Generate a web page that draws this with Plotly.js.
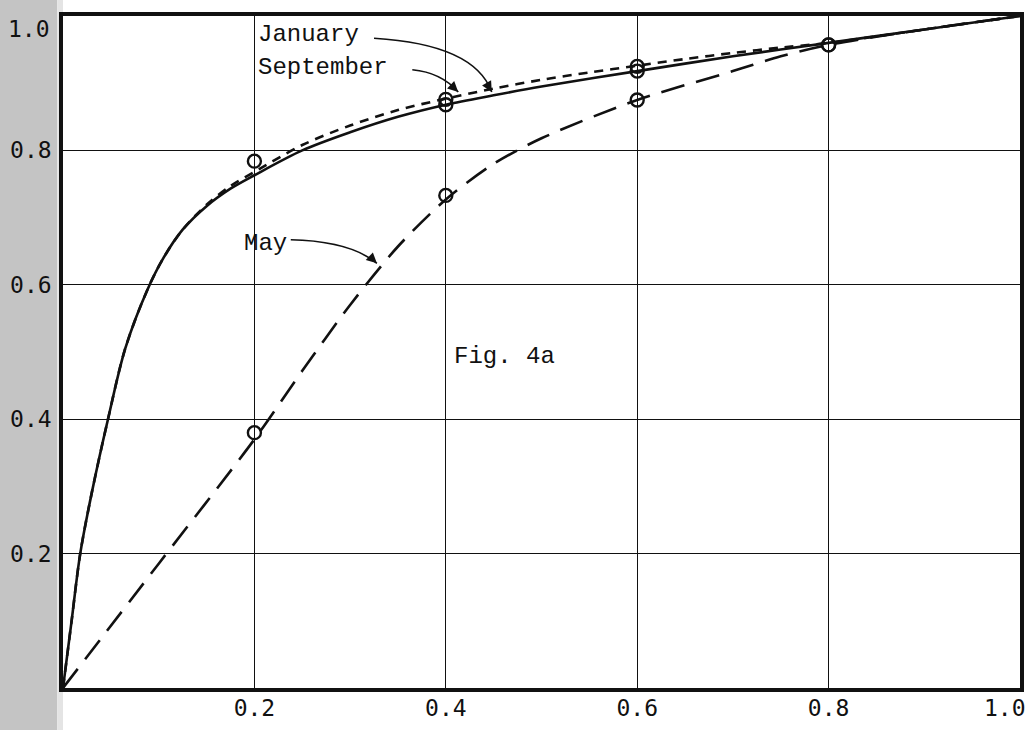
<!DOCTYPE html>
<html>
<head>
<meta charset="utf-8">
<script src="https://cdn.plot.ly/plotly-3.0.1.min.js"></script>
<style>
  html, body { margin: 0; padding: 0; background: #ffffff; }
  #chart { width: 1029px; height: 730px; }
</style>
</head>
<body>
<div id="chart"></div>
<script>
// ---- data ----
const tickVals   = [0.2, 0.4, 0.6, 0.8, 1.0];
const tickLabels = ["0.2", "0.4", "0.6", "0.8", "1.0"];

// September (solid curve)
const sepX = [0, 0.009, 0.018, 0.03, 0.047, 0.065, 0.088, 0.105, 0.125, 0.15, 0.175, 0.2, 0.25, 0.3, 0.35, 0.4, 0.45, 0.5, 0.6, 0.7, 0.8, 0.9, 1.0];
const sepY = [0, 0.1, 0.2, 0.29, 0.4, 0.505, 0.592, 0.64, 0.682, 0.717, 0.743, 0.763, 0.8, 0.827, 0.85, 0.868, 0.882, 0.895, 0.918, 0.94, 0.96, 0.98, 1.0];

// January (short-dashed curve)
const janX = [0, 0.009, 0.018, 0.03, 0.047, 0.065, 0.088, 0.105, 0.125, 0.15, 0.175, 0.2, 0.25, 0.3, 0.35, 0.4, 0.45, 0.5, 0.55, 0.6, 0.65, 0.7, 0.75, 0.8, 0.9, 1.0];
const janY = [0, 0.1, 0.2, 0.29, 0.4, 0.505, 0.592, 0.64, 0.682, 0.719, 0.747, 0.768, 0.808, 0.837, 0.86, 0.877, 0.892, 0.905, 0.916, 0.926, 0.936, 0.945, 0.953, 0.96, 0.98, 1.0];

// May (long-dashed curve)
const mayX = [0, 0.1, 0.2, 0.25, 0.3, 0.35, 0.4, 0.45, 0.5, 0.6, 0.7, 0.75, 0.8, 0.9, 1.0];
const mayY = [0, 0.185, 0.37, 0.472, 0.57, 0.657, 0.727, 0.78, 0.818, 0.875, 0.918, 0.94, 0.957, 0.98, 1.0];

// observed points (circles)
const janObsX = [0.2, 0.4, 0.6, 0.8];
const janObsY = [0.784, 0.876, 0.925, 0.957];
const sepObsX = [0.4, 0.6];
const sepObsY = [0.868, 0.918];
const mayObsX = [0.2, 0.4, 0.6, 0.8];
const mayObsY = [0.38, 0.733, 0.875, 0.957];

const BLACK = "#111111";
const curveW = 2.6;
const markerStyle = { symbol: "circle-open", size: 13, color: BLACK, line: { width: 2.4, color: BLACK } };

const traces = [
  { x: mayX, y: mayY, mode: "lines", name: "May",
    line: { color: BLACK, width: curveW, dash: "24px,12px", shape: "spline", smoothing: 0.8 } },
  { x: sepX, y: sepY, mode: "lines", name: "September",
    line: { color: BLACK, width: curveW, shape: "spline", smoothing: 0.9 } },
  { x: janX, y: janY, mode: "lines", name: "January",
    line: { color: BLACK, width: curveW, dash: "9px,7px", shape: "spline", smoothing: 0.9 } },
  { x: mayObsX, y: mayObsY, mode: "markers", name: "May obs", marker: markerStyle },
  { x: janObsX, y: janObsY, mode: "markers", name: "January obs", marker: markerStyle },
  { x: sepObsX, y: sepObsY, mode: "markers", name: "September obs", marker: markerStyle }
];

const textFont = { family: "Liberation Mono, Courier New, monospace", size: 24, color: BLACK };
const tickFont = { family: "DejaVu Sans Mono, monospace", size: 23, color: BLACK };

function arrowHead(x, y, ax, ay) {
  return { x: x, y: y, ax: ax, ay: ay, xref: "x", yref: "y", axref: "x", ayref: "y",
           text: "", showarrow: true, arrowhead: 2, arrowsize: 1.3, arrowwidth: 1.6, arrowcolor: BLACK };
}

const layout = {
  width: 1029, height: 730,
  margin: { l: 63, r: 9, t: 16, b: 42, pad: 0 },
  paper_bgcolor: "#ffffff",
  plot_bgcolor: "#ffffff",
  showlegend: false,
  xaxis: {
    range: [0, 1], tickmode: "array",
    tickvals: tickVals.slice(0, 4), ticktext: tickLabels.slice(0, 4),
    showgrid: true, gridcolor: BLACK, gridwidth: 1.4, zeroline: false,
    showline: true, linecolor: BLACK, linewidth: 3.8, mirror: true,
    ticks: "", ticklabelstandoff: -3, ticklabeloverflow: "allow",
    tickfont: tickFont, fixedrange: true
  },
  yaxis: {
    range: [0, 1], tickmode: "array",
    tickvals: tickVals.slice(0, 4), ticktext: tickLabels.slice(0, 4),
    showgrid: true, gridcolor: BLACK, gridwidth: 1.4, zeroline: false,
    showline: true, linecolor: BLACK, linewidth: 3.8, mirror: true,
    ticks: "", ticklabelstandoff: 3, ticklabeloverflow: "allow",
    tickfont: tickFont, fixedrange: true
  },
  shapes: [
    // halftone grey strip of the scanned page at the left edge
    { type: "rect", xref: "paper", yref: "paper", x0: -0.066, x1: -0.006, y0: -0.07, y1: 1.03,
      fillcolor: "#c4c4c4", line: { width: 0 }, layer: "below" },
    { type: "rect", xref: "paper", yref: "paper", x0: -0.006, x1: 0.0, y0: -0.07, y1: 1.03,
      fillcolor: "#e4e4e4", line: { width: 0 }, layer: "below" },
    // curved leader lines
    { type: "path", xref: "x", yref: "y", path: "M 0.325,0.967 Q 0.43,0.958 0.448,0.887",
      line: { color: BLACK, width: 1.6 } },
    { type: "path", xref: "x", yref: "y", path: "M 0.365,0.920 Q 0.395,0.916 0.413,0.887",
      line: { color: BLACK, width: 1.6 } },
    { type: "path", xref: "x", yref: "y", path: "M 0.238,0.667 Q 0.3,0.665 0.328,0.632",
      line: { color: BLACK, width: 1.6 } }
  ],
  annotations: [
    // last tick labels, placed as in the scan (inside the page edge / just under the frame)
    { x: 1.0085, y: -0.03, xref: "paper", yref: "paper", text: tickLabels[4], showarrow: false,
      xanchor: "right", yanchor: "middle", font: tickFont },
    { x: -0.011, y: 0.98, xref: "paper", yref: "paper", text: tickLabels[4], showarrow: false,
      xanchor: "right", yanchor: "middle", font: tickFont },
    { x: 0.2015, y: 0.972, xref: "x", yref: "y", text: "January", showarrow: false,
      xanchor: "left", yanchor: "middle", font: textFont },
    { x: 0.2015, y: 0.923, xref: "x", yref: "y", text: "September", showarrow: false,
      xanchor: "left", yanchor: "middle", font: textFont },
    { x: 0.236, y: 0.661, xref: "x", yref: "y", text: "May", showarrow: false,
      xanchor: "right", yanchor: "middle", font: textFont },
    { x: 0.406, y: 0.493, xref: "x", yref: "y", text: "Fig. 4a", showarrow: false,
      xanchor: "left", yanchor: "middle", font: textFont },
    arrowHead(0.448, 0.887, 0.444, 0.897),
    arrowHead(0.413, 0.887, 0.407, 0.895),
    arrowHead(0.328, 0.632, 0.322, 0.640)
  ]
};

Plotly.newPlot("chart", traces, layout, { staticPlot: true, displayModeBar: false });
</script>
</body>
</html>
